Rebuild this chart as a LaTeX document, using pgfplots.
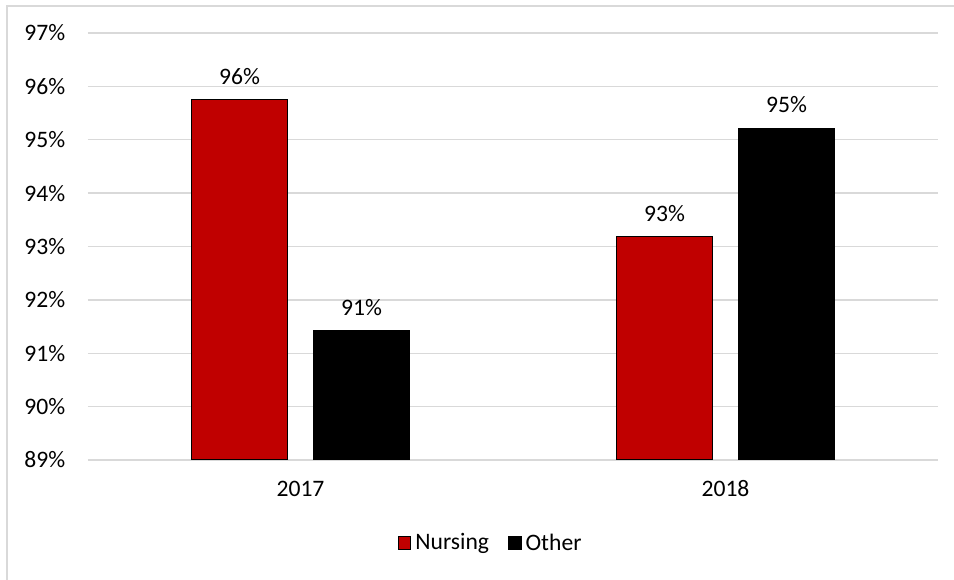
\documentclass[border=0pt]{standalone}
\usepackage{fontspec}
\setmainfont{Carlito}
\usepackage{pgfplots}
\pgfplotsset{compat=1.18}
\definecolor{nursing}{HTML}{C00000}
\definecolor{gridc}{HTML}{D9D9D9}

\begin{document}
\begin{tikzpicture}
\useasboundingbox (-66pt,-90pt) rectangle (649.5pt,345pt);
\draw[gridc, line width=1.4pt] (-60.75pt,-92pt) -- (-60.75pt,340.5pt) -- (652pt,340.5pt);
\begin{axis}[
  at={(0pt,0pt)}, anchor=south west,
  scale only axis, width=637.5pt, height=320.25pt,
  ybar=19.5pt, bar width=72pt,
  xmin=-0.5, xmax=1.5, ymin=89, ymax=97,
  xtick=data, xticklabels={2017,2018},
  ytick={89,...,97},
  yticklabel={\pgfmathprintnumber{\tick}\%},
  /pgf/number format/assume math mode=true,
  major tick length=0pt,
  axis line style={draw=none},
  ymajorgrids, grid style={gridc, line width=1pt},
  tick label style={font=\fontsize{17.7}{21}\selectfont, text=black},
  yticklabel style={xshift=-13.5pt},
  xticklabel style={yshift=-12pt},
  nodes near coords={\pgfmathprintnumber[fixed,precision=0]{\pgfplotspointmeta}\%},
  nodes near coords style={font=\fontsize{17.7}{21}\selectfont, text=black, yshift=7.5pt},
  legend style={at={(0.474,-0.194)}, anchor=center, draw=none, legend columns=2,
    font=\fontsize{17.7}{21}\selectfont,
    /tikz/every even column/.append style={column sep=12pt},
    /tikz/every odd column/.append style={column sep=1pt}},
  legend image code/.code={\draw[#1, line width=0.8pt] (0pt,-4.8pt) rectangle (9.6pt,4.8pt);},
]
\addplot[fill=nursing, draw=black, line width=0.75pt] coordinates {(0,95.76) (1,93.18)};
\addplot[fill=black, draw=black, line width=0.75pt] coordinates {(0,91.42) (1,95.22)};
\legend{Nursing, Other}
\end{axis}
\end{tikzpicture}
\end{document}
